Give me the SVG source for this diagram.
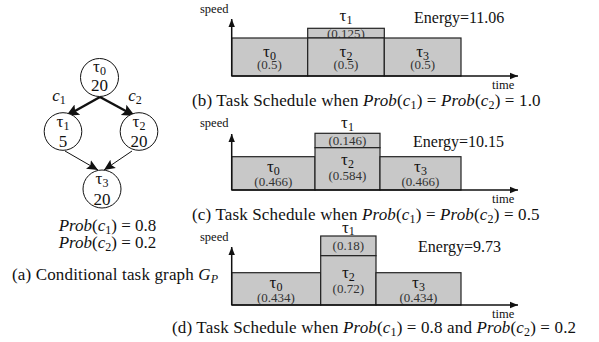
<svg xmlns="http://www.w3.org/2000/svg" width="599" height="342" viewBox="0 0 599 342">
<defs>
<marker id="ah" viewBox="0 0 10 10" refX="10" refY="5" markerWidth="8" markerHeight="8" orient="auto" markerUnits="userSpaceOnUse">
<path d="M0,1 L10,5 L0,9 z" fill="#111"/>
</marker>
<marker id="ahT" viewBox="0 0 10 10" refX="10" refY="5" markerWidth="13" markerHeight="13" orient="auto" markerUnits="userSpaceOnUse">
<path d="M0,0.5 L10,5 L0,9.5 L2,5 z" fill="#111"/>
</marker>
<marker id="ahS" viewBox="0 0 10 10" refX="10" refY="5" markerWidth="11" markerHeight="11" orient="auto" markerUnits="userSpaceOnUse">
<path d="M0,0.5 L10,5 L0,9.5 L2,5 z" fill="#111"/>
</marker>
</defs>
<style>
text{font-family:"Liberation Serif","Times New Roman",serif;fill:#111}
.n{fill:#fff;stroke:#111;stroke-width:1}
.nt{font-size:17px;text-anchor:middle}
.box{fill:#c8c8c8;stroke:#222;stroke-width:1.2}
.tl{font-size:17px;text-anchor:middle}
.vl{font-size:13px;text-anchor:middle;fill:#333}
.cap{font-size:17px;letter-spacing:0.15px}
.sm{font-size:12.5px}
.en{font-size:16px}
.ax{stroke:#111;stroke-width:1.5;fill:none}
.i{font-style:italic}
.sb{font-size:12px}
</style>

<g id="graph-connectors">
<line x1="100" y1="97" x2="66" y2="116" stroke="#111" stroke-width="2.5" marker-end="url(#ahT)"/>
<line x1="100" y1="97" x2="135" y2="116" stroke="#111" stroke-width="2.5" marker-end="url(#ahT)"/>
<line x1="65" y1="151" x2="98" y2="170" stroke="#111" stroke-width="1" marker-end="url(#ahS)"/>
<line x1="132" y1="151" x2="104" y2="170" stroke="#111" stroke-width="1" marker-end="url(#ahS)"/>
<text x="59" y="101" font-size="17" text-anchor="middle" class="i">c<tspan class="sb" dy="3" font-style="normal">1</tspan></text>
<text x="135" y="101" font-size="17" text-anchor="middle" class="i">c<tspan class="sb" dy="3" font-style="normal">2</tspan></text>
</g>

<g id="t0">
<circle class="n" cx="99.5" cy="77.5" r="19"/>
<text class="nt" x="99.5" y="72">τ<tspan class="sb" dy="3">0</tspan></text>
<text class="nt" x="99.5" y="90.5">20</text>
</g>
<g id="t1">
<circle class="n" cx="63" cy="131.5" r="18.8"/>
<text class="nt" x="63" y="127">τ<tspan class="sb" dy="3">1</tspan></text>
<text class="nt" x="63" y="147">5</text>
</g>
<g id="t2">
<circle class="n" cx="139" cy="131.5" r="18.8"/>
<text class="nt" x="139" y="127">τ<tspan class="sb" dy="3">2</tspan></text>
<text class="nt" x="139" y="147">20</text>
</g>
<g id="t3">
<circle class="n" cx="102" cy="189" r="19"/>
<text class="nt" x="102" y="184">τ<tspan class="sb" dy="3">3</tspan></text>
<text class="nt" x="102" y="204.5">20</text>
</g>

<g id="graph-text">
<text x="107.5" y="231" font-size="17" text-anchor="middle"><tspan class="i">Prob</tspan>(<tspan class="i">c</tspan><tspan class="sb" dy="3">1</tspan><tspan dy="-3">) = 0.8</tspan></text>
<text x="107.5" y="248" font-size="17" text-anchor="middle"><tspan class="i">Prob</tspan>(<tspan class="i">c</tspan><tspan class="sb" dy="3">2</tspan><tspan dy="-3">) = 0.2</tspan></text>
<text x="12" y="280" class="cap">(a) Conditional task graph <tspan class="i">G</tspan><tspan class="i sb" dy="3">P</tspan></text>
</g>

<g id="panel-b">
<rect class="box" x="231.7" y="38" width="76" height="38"/>
<rect class="box" x="307.7" y="28.3" width="76.6" height="9.7"/>
<text class="vl" x="346" y="37.5">(0.125)</text>
<rect class="box" x="307.7" y="38" width="76.6" height="38"/>
<rect class="box" x="384.3" y="38" width="76.7" height="38"/>
<text class="tl" x="269.5" y="56.5">τ<tspan class="sb" dy="3">0</tspan></text>
<text class="vl" x="269.5" y="69.3">(0.5)</text>
<text class="tl" x="346" y="56.5">τ<tspan class="sb" dy="3">2</tspan></text>
<text class="vl" x="346" y="69.3">(0.5)</text>
<text class="tl" x="422.6" y="56.5">τ<tspan class="sb" dy="3">3</tspan></text>
<text class="vl" x="422.6" y="69.3">(0.5)</text>
<text class="tl" x="346" y="21">τ<tspan class="sb" dy="3">1</tspan></text>
<line class="ax" x1="231.7" y1="76" x2="231.7" y2="19" marker-end="url(#ah)"/>
<line class="ax" x1="231.7" y1="76" x2="518" y2="76" marker-end="url(#ah)"/>
<text class="sm" x="200" y="13">speed</text>
<text class="sm" x="492" y="89">time</text>
<text class="en" x="414" y="22.5">Energy=11.06</text>
<text class="cap" x="192" y="106">(b) Task Schedule when <tspan class="i">Prob</tspan>(<tspan class="i">c</tspan><tspan class="sb" dy="3">1</tspan><tspan dy="-3">) = </tspan><tspan class="i">Prob</tspan>(<tspan class="i">c</tspan><tspan class="sb" dy="3">2</tspan><tspan dy="-3">) = 1.0</tspan></text>
</g>

<g id="panel-c">
<rect class="box" x="231.7" y="156.7" width="83.3" height="33.3"/>
<rect class="box" x="315" y="133.3" width="65" height="14.4"/>
<rect class="box" x="315" y="147.7" width="65" height="42.3"/>
<rect class="box" x="380" y="156.7" width="81" height="33.3"/>
<text class="tl" x="273.3" y="171.5">τ<tspan class="sb" dy="3">0</tspan></text>
<text class="vl" x="273.3" y="185.5">(0.466)</text>
<text class="tl" x="347.5" y="165">τ<tspan class="sb" dy="3">2</tspan></text>
<text class="vl" x="347.5" y="180">(0.584)</text>
<text class="tl" x="420.5" y="171.5">τ<tspan class="sb" dy="3">3</tspan></text>
<text class="vl" x="420.5" y="185.5">(0.466)</text>
<text class="tl" x="347.5" y="128">τ<tspan class="sb" dy="3">1</tspan></text>
<text class="vl" x="347.5" y="145">(0.146)</text>
<line class="ax" x1="231.7" y1="190" x2="231.7" y2="134" marker-end="url(#ah)"/>
<line class="ax" x1="231.7" y1="190" x2="518" y2="190" marker-end="url(#ah)"/>
<text class="sm" x="200" y="127">speed</text>
<text class="sm" x="492" y="203">time</text>
<text class="en" x="413" y="146.5">Energy=10.15</text>
<text class="cap" x="192" y="220">(c) Task Schedule when <tspan class="i">Prob</tspan>(<tspan class="i">c</tspan><tspan class="sb" dy="3">1</tspan><tspan dy="-3">) = </tspan><tspan class="i">Prob</tspan>(<tspan class="i">c</tspan><tspan class="sb" dy="3">2</tspan><tspan dy="-3">) = 0.5</tspan></text>
</g>

<g id="panel-d">
<rect class="box" x="231.7" y="272.7" width="89" height="32.3"/>
<rect class="box" x="320.7" y="236" width="55.3" height="19.7"/>
<rect class="box" x="320.7" y="255.7" width="55.3" height="49.3"/>
<rect class="box" x="376" y="272.7" width="85" height="32.3"/>
<text class="tl" x="276" y="288">τ<tspan class="sb" dy="3">0</tspan></text>
<text class="vl" x="276" y="301.5">(0.434)</text>
<text class="tl" x="348.3" y="278">τ<tspan class="sb" dy="3">2</tspan></text>
<text class="vl" x="348.3" y="293">(0.72)</text>
<text class="tl" x="418.5" y="288">τ<tspan class="sb" dy="3">3</tspan></text>
<text class="vl" x="418.5" y="301.5">(0.434)</text>
<text class="tl" x="348.3" y="232.5">τ<tspan class="sb" dy="2.5">1</tspan></text>
<text class="vl" x="348.3" y="250">(0.18)</text>
<line class="ax" x1="231.7" y1="305" x2="231.7" y2="247" marker-end="url(#ah)"/>
<line class="ax" x1="231.7" y1="305" x2="518" y2="305" marker-end="url(#ah)"/>
<text class="sm" x="200" y="241">speed</text>
<text class="sm" x="492" y="318">time</text>
<text class="en" x="418" y="251.5">Energy=9.73</text>
<text class="cap" x="172" y="333">(d) Task Schedule when <tspan class="i">Prob</tspan>(<tspan class="i">c</tspan><tspan class="sb" dy="3">1</tspan><tspan dy="-3">) = 0.8 and </tspan><tspan class="i">Prob</tspan>(<tspan class="i">c</tspan><tspan class="sb" dy="3">2</tspan><tspan dy="-3">) = 0.2</tspan></text>
</g>
</svg>
